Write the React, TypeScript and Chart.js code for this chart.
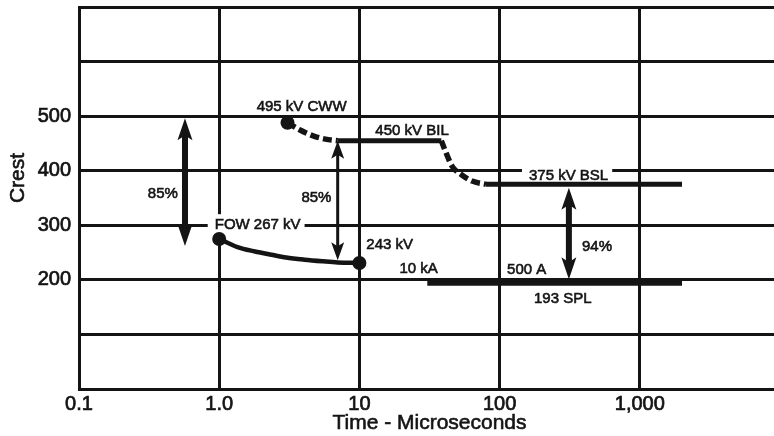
import React, { useEffect, useRef } from 'react';
import { Chart, registerables } from 'chart.js';

Chart.register(...registerables);

// ---- axis ticks ----
const xTickValues = [0.1, 1, 10, 100, 1000, 10000];
const xTickLabels = ['0.1', '1.0', '10', '100', '1,000', ''];
const yTickValues = [0, 100, 200, 300, 400, 500, 600, 700];
const yTickLabels = ['', '', '200', '300', '400', '500', '', ''];
const xTitle = 'Time - Microseconds';
const yTitle = 'Crest';

// ---- curves (time in microseconds, crest in kV) ----
const fowX = [1, 1.35, 1.8, 2.36, 3, 4.06, 5.5, 7, 10];
const fowY = [275, 260, 252, 246, 241, 237, 234, 232, 231];

const cwwX = [3.07, 3.74, 4.78, 6.0, 7];
const cwwY = [488, 475, 463, 457, 455];

const bilX = [7, 38.4];
const bilY = [455, 455];

const transX = [38.4, 40.3, 45.9, 53.2, 63.7, 80];
const transY = [455, 441, 408, 393, 381, 375];

const bslX = [80, 2000];
const bslY = [375, 375];

const splX = [30.5, 2000];
const splY = [194, 194];

// ---- double-headed arrows ----
const arrowX = [0.57, 7, 312];
const arrowLow = [262, 236, 201];
const arrowHigh = [496, 455, 369];

// ---- text labels ----
const labelText = ['495 kV CWW', '450 kV BIL', 'FOW 267 kV', '85%', '85%', '243 kV', '10 kA', '375 kV BSL', '94%', '500 A', '193 SPL'];
const labelX = [1.85, 13.0, 0.929, 0.507, 6.32, 11.2, 19.3, 162, 387, 113, 176];
const labelY = [519, 474, 302, 359, 353, 266, 222, 393, 262, 220, 167];
const labelAlign = ['left', 'left', 'left', 'right', 'right', 'left', 'left', 'left', 'left', 'left', 'left'];
const labelBg = [false, false, true, false, false, false, false, true, false, false, false];

const INK = '#141414';
const FONT = '"Liberation Sans", Arial, Helvetica, sans-serif';

const toPts = (xs: number[], ys: number[]) => xs.map((x, i) => ({ x, y: ys[i] }));

const annotPlugin = {
  id: 'annot',
  beforeDatasetsDraw(chart: any) {
    const { ctx, scales, chartArea } = chart;
    const xs = scales.x;
    const ys = scales.y;
    ctx.save();
    ctx.font = `15px ${FONT}`;
    ctx.textBaseline = 'middle';
    ctx.textAlign = 'left';
    ctx.lineWidth = 0.6;
    ctx.strokeStyle = INK;
    labelText.forEach((t, i) => {
      const px = xs.getPixelForValue(labelX[i]);
      const py = ys.getPixelForValue(labelY[i]);
      const w = ctx.measureText(t).width;
      const left = labelAlign[i] === 'right' ? px - w : px;
      if (labelBg[i]) {
        ctx.fillStyle = '#ffffff';
        ctx.fillRect(left - 7, py - 10, w + 11, 20);
      }
      ctx.fillStyle = INK;
      ctx.fillText(t, left, py + 1);
      ctx.strokeText(t, left, py + 1);
    });
    // axis titles
    ctx.font = `21px ${FONT}`;
    ctx.textAlign = 'center';
    ctx.textBaseline = 'middle';
    ctx.fillStyle = INK;
    ctx.lineWidth = 0.6;
    const tx = (chartArea.left + chartArea.right) / 2;
    ctx.fillText(xTitle, tx, 423);
    ctx.strokeText(xTitle, tx, 423);
    ctx.save();
    ctx.translate(18, 178);
    ctx.rotate(-Math.PI / 2);
    ctx.fillText(yTitle, 0, 0);
    ctx.strokeText(yTitle, 0, 0);
    ctx.restore();
    ctx.restore();
  },
  afterDatasetsDraw(chart: any) {
    const { ctx, scales } = chart;
    const xs = scales.x;
    const ys = scales.y;
    const shaftW = [6, 3, 6];
    const headHW = [7.5, 6.5, 7.5];
    const headLen = [22, 18, 22];
    ctx.save();
    ctx.fillStyle = INK;
    ctx.strokeStyle = INK;
    arrowX.forEach((xv, i) => {
      const px = xs.getPixelForValue(xv);
      const top = ys.getPixelForValue(arrowHigh[i]);
      const bot = ys.getPixelForValue(arrowLow[i]);
      const L = headLen[i];
      const hw = headHW[i];
      ctx.lineWidth = shaftW[i];
      ctx.beginPath();
      ctx.moveTo(px, top + L * 0.7);
      ctx.lineTo(px, bot - L * 0.7);
      ctx.stroke();
      ctx.beginPath();
      ctx.moveTo(px, top);
      ctx.lineTo(px + hw, top + L);
      ctx.lineTo(px, top + L * 0.78);
      ctx.lineTo(px - hw, top + L);
      ctx.closePath();
      ctx.fill();
      ctx.beginPath();
      ctx.moveTo(px, bot);
      ctx.lineTo(px + hw, bot - L);
      ctx.lineTo(px, bot - L * 0.78);
      ctx.lineTo(px - hw, bot - L);
      ctx.closePath();
      ctx.fill();
    });
    ctx.restore();
  },
};

export default function App() {
  const canvasRef = useRef<HTMLCanvasElement | null>(null);

  useEffect(() => {
    const canvas = canvasRef.current;
    if (!canvas) return;
    const endDots = (n: number, first: boolean, last: boolean) =>
      Array.from({ length: n }, (_, i) => ((i === 0 && first) || (i === n - 1 && last) ? 7 : 0));

    const chart = new Chart(canvas, {
      type: 'scatter',
      data: {
        datasets: [
          {
            label: 'FOW',
            data: toPts(fowX, fowY),
            showLine: true,
            borderColor: INK,
            backgroundColor: INK,
            borderWidth: 4.5,
            pointRadius: endDots(fowX.length, true, true),
            pointBorderWidth: 0,
            cubicInterpolationMode: 'monotone',
          },
          {
            label: 'CWW',
            data: toPts(cwwX, cwwY),
            showLine: true,
            borderColor: INK,
            backgroundColor: INK,
            borderWidth: 5.5,
            borderDash: [9, 4],
            pointRadius: endDots(cwwX.length, true, false),
            pointBorderWidth: 0,
            cubicInterpolationMode: 'monotone',
          },
          {
            label: 'BIL',
            data: toPts(bilX, bilY),
            showLine: true,
            borderColor: INK,
            borderWidth: 5,
            pointRadius: 0,
          },
          {
            label: 'Transition',
            data: toPts(transX, transY),
            showLine: true,
            borderColor: INK,
            borderWidth: 5.5,
            borderDash: [9, 4],
            pointRadius: 0,
            cubicInterpolationMode: 'monotone',
          },
          {
            label: 'BSL',
            data: toPts(bslX, bslY),
            showLine: true,
            borderColor: INK,
            borderWidth: 5,
            pointRadius: 0,
          },
          {
            label: 'SPL',
            data: toPts(splX, splY),
            showLine: true,
            borderColor: INK,
            borderWidth: 5,
            pointRadius: 0,
          },
        ],
      },
      options: {
        responsive: false,
        animation: false,
        devicePixelRatio: 1,
        layout: { padding: { top: 5, right: 10, left: 0, bottom: 0 } },
        plugins: {
          legend: { display: false },
          tooltip: { enabled: false },
          title: { display: false },
        },
        scales: {
          x: {
            type: 'logarithmic',
            min: 0.1,
            max: 10000,
            afterBuildTicks: (s: any) => {
              s.ticks = xTickValues.map((v) => ({ value: v }));
            },
            afterFit: (s: any) => {
              s.height = 47;
              s.paddingLeft = 0;
              s.paddingRight = 0;
            },
            grid: { color: INK, lineWidth: 3, drawTicks: false },
            border: { display: true, color: INK, width: 3 },
            ticks: {
              autoSkip: false,
              maxRotation: 0,
              padding: 3,
              color: INK,
              textStrokeColor: INK,
              textStrokeWidth: 0.7,
              font: { family: FONT, size: 20 },
              callback: (_v: any, i: number) => xTickLabels[i],
            },
            title: { display: false },
          },
          y: {
            type: 'linear',
            min: 0,
            max: 700,
            afterBuildTicks: (s: any) => {
              s.ticks = yTickValues.map((v) => ({ value: v }));
            },
            afterFit: (s: any) => {
              s.width = 79;
              s.paddingTop = 0;
              s.paddingBottom = 0;
            },
            grid: { color: INK, lineWidth: 3, drawTicks: false },
            border: { display: true, color: INK, width: 3 },
            ticks: {
              padding: 8,
              color: INK,
              textStrokeColor: INK,
              textStrokeWidth: 0.7,
              font: { family: FONT, size: 20 },
              callback: (_v: any, i: number) => yTickLabels[i],
            },
          },
        },
      } as any,
      plugins: [annotPlugin],
    });
    return () => chart.destroy();
  }, []);

  return (
    <div style={{ position: 'fixed', left: 0, top: 0, width: 774, height: 436, overflow: 'hidden', background: '#fff' }}>
      <canvas ref={canvasRef} width={790} height={436} style={{ display: 'block', width: 790, height: 436 }} />
    </div>
  );
}
